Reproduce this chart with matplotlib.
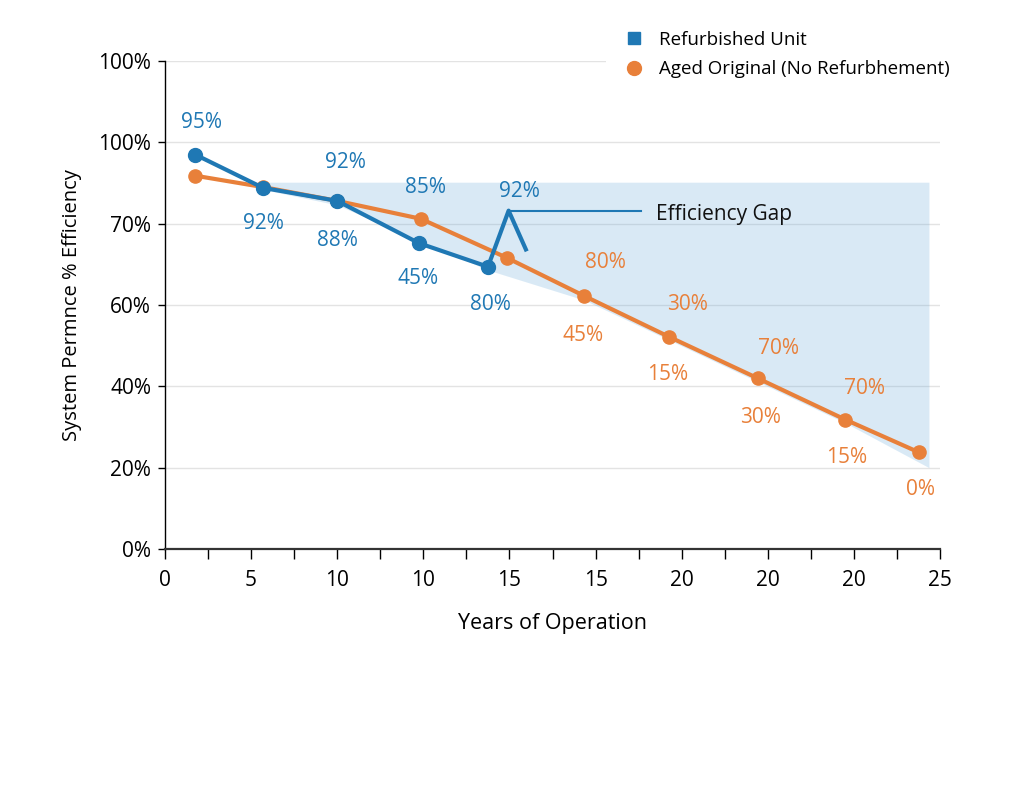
import matplotlib.pyplot as plt
from matplotlib.lines import Line2D
from matplotlib.ticker import FixedLocator

plt.rcParams['font.family'] = ['Open Sans', 'DejaVu Sans']

BLUE = "#1f78b4"
ORANGE = "#e8803a"

# axis ticks are evenly spaced, labels are as printed on the chart
x_tick_labels = ["0", "5", "10", "10", "15", "15", "20", "20", "20", "25"]
y_tick_labels = ["0%", "20%", "40%", "60%", "70%", "100%", "100%"]

# series in tick-index units
refurb_x = [0.35, 1.14, 2.00, 2.95, 3.75]
refurb_y = [4.85, 4.44, 4.28, 3.76, 3.47]

aged_x = [0.35, 1.14, 2.00, 2.97, 3.97, 4.87, 5.85, 6.88, 7.90, 8.75]
aged_y = [4.59, 4.45, 4.28, 4.06, 3.58, 3.11, 2.61, 2.10, 1.59, 1.19]

spike_x = [3.75, 3.99, 4.20]
spike_y = [3.47, 4.16, 3.66]

gap_x = [1.14, 2.00, 3.75, 4.87, 7.90, 8.87]
gap_low = [4.42, 4.23, 3.43, 3.06, 1.55, 1.00]
gap_top = 4.51

refurb_labels = [(0.42, 5.25, "95%"), (1.14, 4.00, "92%"), (2.10, 4.75, "92%"),
                 (2.00, 3.79, "88%"), (3.02, 4.45, "85%"), (2.94, 3.32, "45%"),
                 (4.11, 4.39, "92%"), (3.78, 3.00, "80%")]
aged_labels = [(5.11, 3.52, "80%"), (4.86, 2.62, "45%"), (6.07, 3.00, "30%"),
               (5.84, 2.15, "15%"), (7.12, 2.46, "70%"), (6.91, 1.62, "30%"),
               (8.12, 1.97, "70%"), (7.91, 1.12, "15%"), (8.77, 0.73, "0%")]

fig = plt.figure(figsize=(10.24, 8.06), dpi=100)
ax = fig.add_axes([0.1611, 0.3189, 0.757, 0.6054])

ax.fill_between(gap_x, gap_low, [gap_top] * len(gap_x), color="#6aaadb",
                alpha=0.25, linewidth=0, zorder=1)

ax.plot(aged_x, aged_y, color=ORANGE, lw=3, marker="o", ms=9.5, zorder=3)
ax.plot(refurb_x, refurb_y, color=BLUE, lw=3, marker="o", ms=10, zorder=4)
ax.plot(spike_x, spike_y, color=BLUE, lw=3, zorder=4, solid_capstyle="butt")
ax.plot([spike_x[1], 5.53], [spike_y[1], spike_y[1]], color=BLUE, lw=1.5, zorder=4)
ax.text(5.70, 4.11, "Efficiency Gap", fontsize=15, color="#111111",
        va="center", ha="left")

for x, y, t in refurb_labels:
    ax.text(x, y, t, color=BLUE, fontsize=15, ha="center", va="center", zorder=5)
for x, y, t in aged_labels:
    ax.text(x, y, t, color=ORANGE, fontsize=15, ha="center", va="center", zorder=5)

ax.set_xlim(0, 9)
ax.set_ylim(0, 6)
ax.set_xticks(range(len(x_tick_labels)))
ax.set_xticklabels(x_tick_labels, fontsize=15)
ax.xaxis.set_minor_locator(FixedLocator([i + 0.5 for i in range(9)]))
ax.set_yticks(range(len(y_tick_labels)))
ax.set_yticklabels(y_tick_labels, fontsize=15)
ax.tick_params(axis="x", which="both", length=7, width=1, direction="out", pad=8)
ax.tick_params(axis="y", length=5, width=1, pad=5)

ax.grid(axis="y", color="#e3e3e3", lw=1, zorder=0)
ax.set_axisbelow(True)
for s in ["top", "right"]:
    ax.spines[s].set_visible(False)
ax.spines["left"].set_linewidth(1)
ax.spines["bottom"].set_linewidth(1.6)
ax.spines["bottom"].set_color("#333333")

ax.set_xlabel("Years of Operation", fontsize=15.5, labelpad=16)
ax.set_ylabel("System Permnce % Efficiency", fontsize=14.5, labelpad=12)

handles = [Line2D([], [], color=BLUE, marker="s", ls="none", ms=8),
           Line2D([], [], color=ORANGE, marker="o", ls="none", ms=10)]
fig.legend(handles, ["Refurbished Unit", "Aged Original (No Refurbhement)"],
           loc="upper left", bbox_to_anchor=(0.583, 0.985), frameon=True,
           facecolor="white", edgecolor="none", framealpha=1, fontsize=13.5,
           handletextpad=0.3, labelspacing=0.6, borderpad=0.5)

fig.savefig("out.png", dpi=100)
